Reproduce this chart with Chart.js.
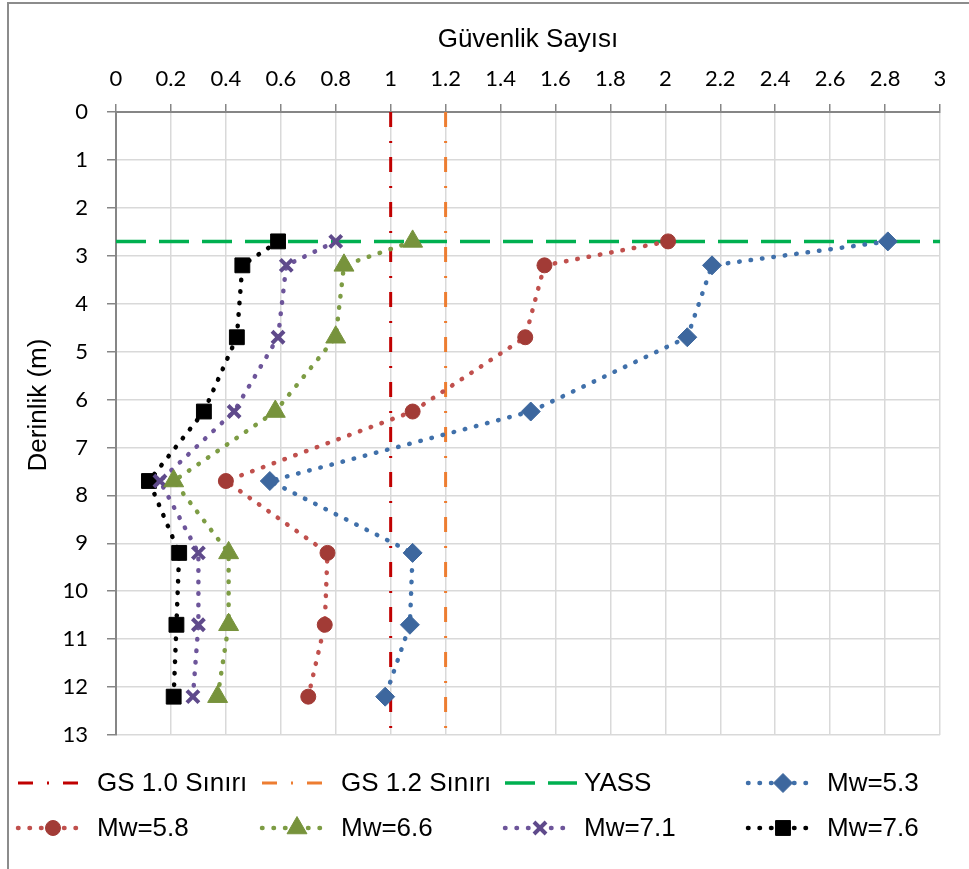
<!DOCTYPE html>
<html>
<head>
<meta charset="utf-8">
<script src="https://cdn.jsdelivr.net/npm/chart.js@4.4.1/dist/chart.umd.min.js"></script>
<style>
  body { margin: 0; background: #fff; }
  canvas { display: block; }
</style>
</head>
<body>
<canvas id="myChart" width="969" height="869"></canvas>
<script>
// derinlik (m) and guvenlik sayisi values
const depths = [2.7, 3.2, 4.7, 6.25, 7.7, 9.2, 10.7, 12.2];
const mw53 = [2.81, 2.17, 2.08, 1.51, 0.56, 1.08, 1.07, 0.98];
const mw58 = [2.01, 1.56, 1.49, 1.08, 0.40, 0.77, 0.76, 0.70];
const mw66 = [1.08, 0.83, 0.80, 0.58, 0.21, 0.41, 0.41, 0.37];
const mw71 = [0.80, 0.62, 0.59, 0.43, 0.16, 0.30, 0.30, 0.28];
const mw76 = [0.59, 0.46, 0.44, 0.32, 0.12, 0.23, 0.22, 0.21];
const gs10 = 1.0;
const gs12 = 1.2;
const yassDepth = 2.7;
const depthRange = [0, 13];
const gsRange = [0, 3];

const textFont = "26px 'Liberation Sans', Arial, sans-serif";

function points(xs) {
    return xs.map((x, i) => ({ x: x, y: depths[i] }));
}

function series(label, values, lineColor, markColor, style, radius, bw) {
    return {
        label: label,
        data: points(values),
        showLine: true,
        borderColor: lineColor,
        borderWidth: 4.5,
        borderDash: [0.5, 11],
        borderCapStyle: "round",
        pointStyle: style,
        pointRadius: radius,
        pointHoverRadius: radius,
        pointBackgroundColor: markColor,
        pointBorderColor: markColor,
        pointBorderWidth: bw,
        order: 1
    };
}

const dashDot = [15, 14, 2, 14];

const datasets = [
    {
        label: "GS 1.0 Sınırı",
        data: [{ x: gs10, y: depthRange[0] }, { x: gs10, y: depthRange[1] }],
        showLine: true, borderColor: "#C00000", borderWidth: 3, borderDash: dashDot,
        pointRadius: 0, order: 2
    },
    {
        label: "GS 1.2 Sınırı",
        data: [{ x: gs12, y: depthRange[0] }, { x: gs12, y: depthRange[1] }],
        showLine: true, borderColor: "#ED7D31", borderWidth: 3, borderDash: dashDot,
        pointRadius: 0, order: 2
    },
    {
        label: "YASS",
        data: [{ x: gsRange[0], y: yassDepth }, { x: gsRange[1], y: yassDepth }],
        showLine: true, borderColor: "#00B050", borderWidth: 3.5, borderDash: [30, 13],
        pointRadius: 0, order: 2
    },
    series("Mw=5.3", mw53, "#4070AA", "#3D679E", "rectRot", 9.5, 1),
    series("Mw=5.8", mw58, "#C0504D", "#A23B36", "circle", 7.5, 1),
    series("Mw=6.6", mw66, "#7D9C44", "#77933C", "triangle", 11.5, 1),
    series("Mw=7.1", mw71, "#6D559A", "#5F4A8B", "crossRot", 8.5, 4),
    series("Mw=7.6", mw76, "#000000", "#000000", "rect", 10.5, 1)
];

// frame, y title and legend drawn as Excel does: 4 columns, line sample with marker in the middle
const legendPlugin = {
    id: "excelLegend",
    afterDraw(chart) {
        const ctx = chart.ctx;
        const colX = [18, 262, 505, 748];
        const rowY = [783, 828];
        ctx.save();
        ctx.strokeStyle = "#8c8c8c";
        ctx.lineWidth = 2;
        ctx.beginPath();
        ctx.moveTo(8, 869);
        ctx.lineTo(8, 3);
        ctx.lineTo(969, 3);
        ctx.stroke();

        ctx.save();
        ctx.translate(39, 405);
        ctx.rotate(-Math.PI / 2);
        ctx.fillStyle = "#000";
        ctx.font = textFont;
        ctx.textAlign = "center";
        ctx.textBaseline = "middle";
        ctx.fillText("Derinlik (m)", 0, 0);
        ctx.restore();

        chart.data.datasets.forEach((ds, i) => {
            const x0 = colX[i % 4];
            const y = rowY[Math.floor(i / 4)];
            const len = ds.label === "YASS" ? 72 : (ds.pointStyle ? 67 : 60);
            ctx.save();
            ctx.strokeStyle = ds.borderColor;
            ctx.lineWidth = ds.borderWidth;
            ctx.lineCap = ds.borderCapStyle || "butt";
            ctx.setLineDash(ds.borderDash || []);
            ctx.beginPath();
            ctx.moveTo(x0, y);
            ctx.lineTo(x0 + len, y);
            ctx.stroke();
            ctx.restore();
            if (ds.pointStyle) {
                ctx.save();
                ctx.fillStyle = ds.pointBackgroundColor;
                ctx.strokeStyle = ds.pointBorderColor;
                ctx.lineWidth = ds.pointBorderWidth;
                Chart.helpers.drawPoint(ctx, {
                    pointStyle: ds.pointStyle,
                    radius: ds.pointRadius,
                    borderWidth: ds.pointBorderWidth,
                    rotation: 0
                }, x0 + 35, y);
                ctx.restore();
            }
            ctx.fillStyle = "#000";
            ctx.font = textFont;
            ctx.textBaseline = "middle";
            ctx.textAlign = "left";
            ctx.fillText(ds.label, x0 + 79, y + 1);
        });
        ctx.restore();
    }
};

Chart.defaults.font.family = "'Liberation Sans', Arial, sans-serif";
Chart.defaults.color = "#000";

new Chart("myChart", {
    type: "scatter",
    data: { datasets: datasets },
    options: {
        responsive: false,
        animation: false,
        layout: { padding: { left: 0, top: 0, right: 29, bottom: 134 } },
        plugins: {
            legend: { display: false },
            tooltip: { enabled: false }
        },
        scales: {
            x: {
                type: "linear",
                position: "top",
                min: gsRange[0],
                max: gsRange[1],
                ticks: {
                    stepSize: 0.2,
                    padding: 12,
                    color: "#000",
                    font: { family: "Lato", size: 22 },
                    callback: v => String(Number(v.toFixed(1)))
                },
                grid: { color: "#d9d9d9", lineWidth: 1.5, tickLength: 8, tickColor: "#868686" },
                border: { color: "#868686", width: 2 },
                title: {
                    display: true,
                    text: "Güvenlik Sayısı",
                    font: { size: 26 },
                    padding: { top: 24, bottom: 0 }
                },
                afterFit(scale) { scale.height = 112; }
            },
            y: {
                type: "linear",
                reverse: true,
                min: depthRange[0],
                max: depthRange[1],
                ticks: {
                    stepSize: 1,
                    padding: 19,
                    color: "#000",
                    font: { family: "Lato", size: 22 }
                },
                grid: { color: "#d9d9d9", lineWidth: 1.5, tickLength: 9, tickColor: "#868686" },
                border: { color: "#868686", width: 2 },
                afterFit(scale) { scale.width = 116; }
            }
        }
    },
    plugins: [legendPlugin]
});
</script>
</body>
</html>
